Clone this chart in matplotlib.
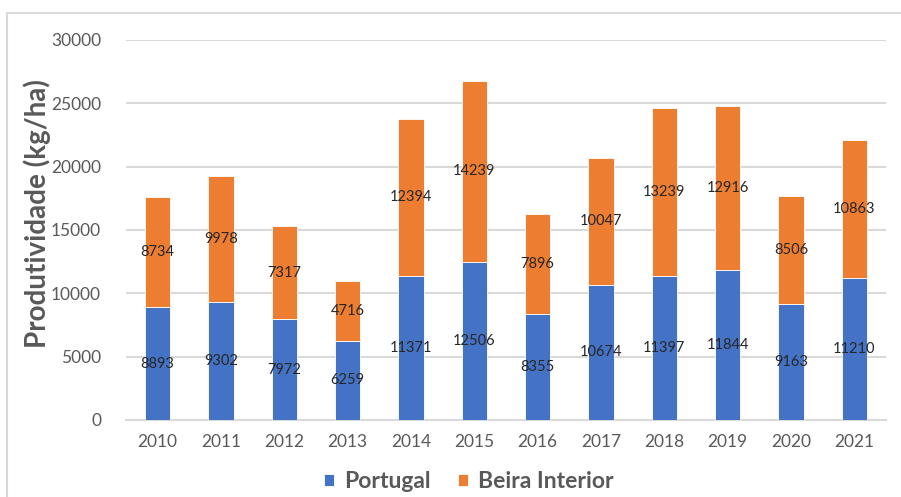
import matplotlib.pyplot as plt
from matplotlib.patches import Rectangle
import numpy as np

# dados
anos = ["2010", "2011", "2012", "2013", "2014", "2015",
        "2016", "2017", "2018", "2019", "2020", "2021"]
portugal = [8893, 9302, 7972, 6259, 11371, 12506, 8355, 10674, 11397, 11844, 9163, 11210]
beira = [8734, 9978, 7317, 4716, 12394, 14239, 7896, 10047, 13239, 12916, 8506, 10863]

AZUL = "#4472C4"
LARANJA = "#ED7D31"
CINZA = "#595959"

plt.rcParams["font.family"] = ["Lato", "DejaVu Sans"]

W, H = 901, 497
fig = plt.figure(figsize=(W / 100, H / 100), dpi=100)
ax = fig.add_axes([126 / W, 1 - 420 / H, (886 - 126) / W, (420 - 40) / H])

x = np.arange(len(anos))
b1 = ax.bar(x, portugal, width=0.4, color=AZUL, edgecolor="white", linewidth=0.6,
            label="Portugal", zorder=3)
b2 = ax.bar(x, beira, width=0.4, bottom=portugal, color=LARANJA, edgecolor="white",
            linewidth=0.6, label="Beira Interior", zorder=3)

for i in range(len(anos)):
    ax.text(x[i], portugal[i] / 2, str(portugal[i]), ha="center", va="center",
            fontsize=10.5, color="#262626", zorder=4)
    ax.text(x[i], portugal[i] + beira[i] / 2, str(beira[i]), ha="center", va="center",
            fontsize=10.5, color="#262626", zorder=4)

ax.set_xlim(-0.5, len(anos) - 0.5)
ax.set_ylim(0, 30000)
ax.set_yticks(range(0, 30001, 5000))
ax.set_xticks(x)
ax.set_xticklabels(anos)
ax.grid(axis="y", color="#d9d9d9", linewidth=1.5, zorder=0)
ax.set_axisbelow(True)
for s in ["top", "right", "left"]:
    ax.spines[s].set_visible(False)
ax.spines["bottom"].set_color("#d9d9d9")
ax.spines["bottom"].set_linewidth(1.5)
ax.tick_params(axis="both", length=0, labelsize=12.5, labelcolor=CINZA)
ax.tick_params(axis="y", pad=18)
ax.tick_params(axis="x", pad=10)

# rótulo do eixo y, centrado em x ~ 37 px
fig.text(37 / W, 1 - 214 / H, "Produtividade (kg/ha)", rotation=90, ha="center", va="center",
         fontsize=20, fontweight="bold", color=CINZA)

leg = fig.legend(handles=[b1, b2], loc="center", bbox_to_anchor=(469 / W, 1 - 482 / H),
                 ncol=2, frameon=False, fontsize=16.5, handlelength=0.44, handleheight=0.44,
                 columnspacing=1.2, handletextpad=0.44, borderpad=0, borderaxespad=0)
for t in leg.get_texts():
    t.set_fontweight("bold")
    t.set_color(CINZA)

# moldura do gráfico
fig.patches.append(Rectangle((7 / W, -0.1), 1.2, 1 - 13 / H + 0.1, transform=fig.transFigure,
                             fill=False, edgecolor="#d9d9d9", linewidth=1.5))

fig.savefig("out.png", dpi=100)
